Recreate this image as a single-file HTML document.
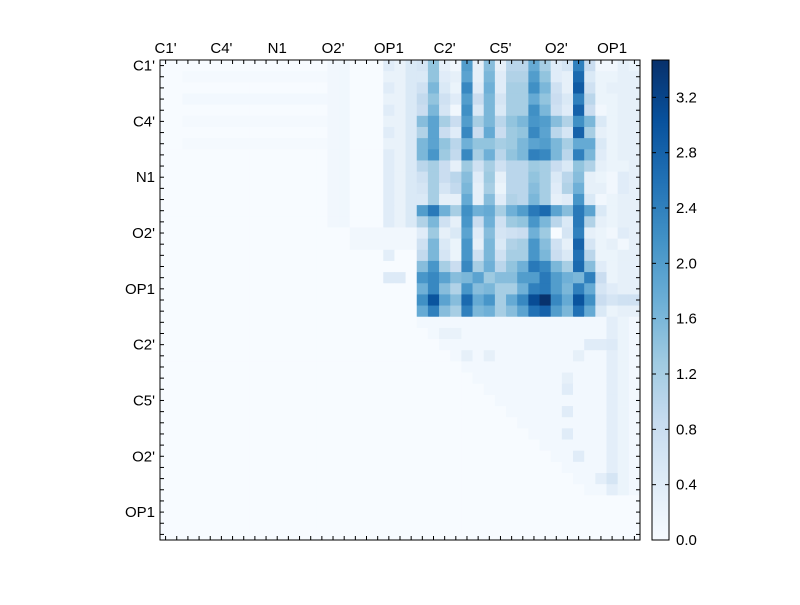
<!DOCTYPE html>
<html><head><meta charset="utf-8"><style>
body{margin:0;background:#fff;}
svg text{font-family:"Liberation Sans",sans-serif;font-size:15px;fill:#000;}
</style></head><body>
<svg id="s" width="800" height="600" xmlns="http://www.w3.org/2000/svg"></svg>
<script>
const S=document.getElementById('s');
const N=43,x0=160,y0=60,W=480,cw=W/N,VMAX=3.47;
const stops=["f7fbff","deebf7","c6dbef","9ecae1","6baed6","4292c6","2171b5","08519c","08306b"].map(h=>[parseInt(h.slice(0,2),16),parseInt(h.slice(2,4),16),parseInt(h.slice(4,6),16)]);
function col(v){let t=Math.max(0,Math.min(1,v/VMAX))*8;let i=Math.min(7,Math.floor(t));let f=t-i;let a=stops[i],b=stops[i+1];return `rgb(${a.map((c,k)=>Math.round(c+(b[k]-c)*f)).join(',')})`;}
const block=[
[0.6,1.4,0.3,0.1,2.0,0.3,1.5,0.3,1.0,1.0,1.8,1.2,0.4,0.6,2.4,0.8,0.1,0.1,0.3,0.2],
[0.5,1.4,0.4,0.3,1.9,0.3,1.6,0.4,1.1,1.1,2.0,1.4,0.4,0.3,2.7,0.5,0.2,0.2,0.3,0.3],
[0.7,1.6,0.5,0.2,2.3,0.4,1.7,0.4,1.2,1.2,2.2,1.6,0.7,0.3,2.9,0.7,0.2,0.3,0.3,0.3],
[0.9,1.4,0.7,0.4,2.0,0.8,1.6,0.6,1.2,1.2,1.8,1.4,0.8,0.5,2.4,1.0,0.2,0.2,0.3,0.3],
[0.8,1.6,0.6,0.1,2.2,0.5,1.6,0.5,1.2,1.2,2.2,1.6,0.7,0.4,2.8,0.8,0.1,0.2,0.3,0.3],
[1.5,1.9,1.2,0.8,2.0,1.2,1.6,1.0,1.4,1.6,2.1,2.0,1.5,1.1,2.2,1.6,0.5,0.2,0.3,0.3],
[1.1,1.9,0.8,0.4,2.3,0.8,1.8,0.8,1.3,1.4,2.3,1.9,1.0,0.6,2.8,1.2,0.3,0.2,0.3,0.3],
[1.6,1.9,1.4,1.0,1.7,1.4,1.4,1.2,1.3,1.6,1.9,2.0,1.6,1.2,1.8,1.8,0.5,0.2,0.3,0.3],
[1.6,2.1,1.3,0.9,2.3,1.2,1.7,1.0,1.4,1.6,2.4,2.3,1.6,1.0,2.4,1.6,0.4,0.2,0.3,0.3],
[1.0,1.2,0.8,0.3,1.3,0.7,1.2,0.7,1.0,1.0,1.3,1.2,0.8,0.5,1.4,1.1,0.3,0.2,0.2,0.3],
[0.7,1.2,0.8,1.0,1.5,0.4,1.3,0.3,1.0,1.0,1.4,1.2,0.5,1.0,1.5,0.3,0.2,0.1,0.4,0.3],
[0.6,1.2,0.6,0.9,1.6,0.3,1.2,0.2,1.0,1.0,1.5,1.2,0.4,1.1,1.7,0.3,0.3,0.1,0.4,0.3],
[0.5,1.2,0.3,0.3,1.8,0.3,1.5,0.4,1.1,1.0,1.6,1.2,0.3,0.4,2.1,0.5,0.1,0.2,0.3,0.3],
[2.0,2.5,1.7,1.2,2.2,1.7,1.8,1.2,1.7,2.0,2.5,2.7,1.9,1.5,2.5,1.9,0.5,0.2,0.3,0.3],
[1.1,1.6,0.7,0.3,2.1,0.8,1.7,0.7,1.3,1.4,2.1,1.6,1.0,0.5,2.5,1.1,0.3,0.2,0.3,0.3],
[0.4,1.3,0.3,0.5,1.9,0.4,1.5,0.6,0.7,0.8,1.7,1.3,0.0,0.6,2.4,0.3,0.2,0.1,0.4,0.3],
[0.7,1.6,0.5,0.2,2.1,0.3,1.6,0.5,1.1,1.2,2.1,1.5,0.7,0.3,2.8,0.6,0.2,0.3,0.1,0.3],
[0.9,1.6,0.6,0.2,2.1,0.7,1.6,0.7,1.2,1.2,2.1,1.6,0.8,0.5,2.6,1.0,0.2,0.2,0.3,0.3],
[1.5,2.1,1.2,0.8,2.3,1.2,1.7,1.0,1.4,1.7,2.5,2.3,1.6,1.2,2.7,1.5,0.4,0.2,0.3,0.3],
[2.1,2.3,1.9,1.5,1.6,1.9,1.3,1.5,1.5,2.0,2.0,2.5,2.0,1.7,1.6,2.4,0.8,0.2,0.3,0.3],
[1.7,2.3,1.5,1.1,2.1,1.5,1.6,1.2,1.2,1.7,2.4,2.5,2.0,1.6,2.4,1.8,0.6,0.4,0.3,0.3],
[2.2,3.0,1.9,1.5,2.7,1.8,2.1,1.2,1.8,2.3,3.1,3.45,2.3,1.8,3.0,2.2,0.8,0.6,0.7,0.7],
[1.8,2.4,1.5,1.2,2.4,1.6,1.7,1.2,1.5,1.9,2.6,2.8,2.0,1.6,2.6,1.8,0.5,0.2,0.3,0.3]];
const M=[];for(let r=0;r<N;r++){M.push(new Array(N).fill(0));}
for(let r=0;r<23;r++)for(let c=0;c<20;c++)M[r][c+23]=block[r][c];
// upper-left faint
for(let r=0;r<15;r++){M[r][20]=(r%2==0||r>7)?0.4:0.25;M[r][21]=0.25;M[r][22]=0.5;M[r][15]=0.1;M[r][16]=0.12;}
for(let c=2;c<15;c++){M[1][c]=0.05;M[3][c]=0.08;M[5][c]=0.05;M[7][c]=0.05;}
for(let c=17;c<23;c++){M[15][c]=0.1;M[16][c]=0.1;}
M[17][20]=0.35;M[19][20]=0.45;M[19][21]=0.45;
// lower-right faint
for(let r=23;r<39;r++){for(let c=Math.max(23,r);c<43;c++){M[r][c]=0.08;}M[r][40]=0.35;M[r][41]=0.2;}
M[24][25]=0.25;M[24][26]=0.25;M[26][27]=0.3;M[26][29]=0.3;M[25][38]=0.4;M[25][39]=0.4;M[25][40]=0.45;
M[26][37]=0.3;M[28][36]=0.3;M[29][36]=0.4;M[31][36]=0.4;M[33][36]=0.4;M[35][37]=0.4;M[37][40]=0.6;M[37][39]=0.35;
let h='';
for(let r=0;r<N;r++)for(let c=0;c<N;c++){h+=`<rect x="${(x0+c*cw).toFixed(2)}" y="${(y0+r*cw).toFixed(2)}" width="${(cw+0.4).toFixed(2)}" height="${(cw+0.4).toFixed(2)}" fill="${col(M[r][c])}"/>`;}
h+=`<rect x="${x0}" y="${y0}" width="${W}" height="${W}" fill="none" stroke="#000" stroke-width="1"/>`;
for(let i=0;i<N;i++){let p=x0+(i+0.5)*cw;let q=y0+(i+0.5)*cw;
h+=`<line x1="${p}" y1="${y0}" x2="${p}" y2="${y0+4}" stroke="#000"/><line x1="${p}" y1="${y0+W}" x2="${p}" y2="${y0+W-4}" stroke="#000"/>`;
h+=`<line y1="${q}" x1="${x0}" y2="${q}" x2="${x0+4}" stroke="#000"/><line y1="${q}" x1="${x0+W}" y2="${q}" x2="${x0+W-4}" stroke="#000"/>`;}
const labs=["C1'","C4'","N1","O2'","OP1","C2'","C5'","O2'","OP1"];
labs.forEach((l,k)=>{let p=x0+(k*5+0.5)*cw;let q=y0+(k*5+0.5)*cw;h+=`<text x="${p}" y="53" text-anchor="middle">${l}</text><text x="155" y="${q+5}" text-anchor="end">${l}</text>`;});
const cx=652,cwid=17;
h+=`<defs><linearGradient id="g" x1="0" y1="1" x2="0" y2="0">${stops.map((s,i)=>`<stop offset="${i/8}" stop-color="rgb(${s.join(',')})"/>`).join('')}</linearGradient></defs>`;
h+=`<rect x="${cx}" y="60" width="${cwid}" height="480" fill="url(#g)" stroke="#000"/>`;
for(let k=0;k<=8;k++){let v=k*0.4;let y=540-v/VMAX*480;h+=`<line x1="${cx}" x2="${cx+4}" y1="${y}" y2="${y}" stroke="#000"/><line x1="${cx+cwid}" x2="${cx+cwid-4}" y1="${y}" y2="${y}" stroke="#000"/><text x="676" y="${y+5}">${v.toFixed(1)}</text>`;}
S.innerHTML=h;
</script>
</body></html>
